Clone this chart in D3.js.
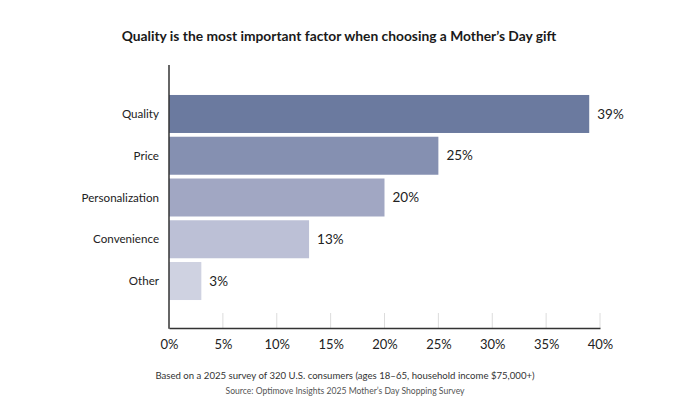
<!DOCTYPE html>
<html><head><meta charset="utf-8">
<script src="https://cdn.jsdelivr.net/npm/d3@7"></script>
<style>
html,body{margin:0;padding:0;background:#fff;}
svg{display:block;font-family:"Lato","Open Sans",sans-serif;}
</style></head>
<body>
<svg id="chart" width="691" height="397"></svg>
<script>
const categories = ["Quality","Price","Personalization","Convenience","Other"];
const values = [39,25,20,13,3];
const barColors = ["#6b7a9f","#8590b1","#a1a7c3","#bcc0d6","#cfd2e1"];
const tickValues = [0,5,10,15,20,25,30,35,40];
const titleText = "Quality is the most important factor when choosing a Mother\u2019s Day gift";
const note1 = "Based on a 2025 survey of 320 U.S. consumers (ages 18\u201365, household income $75,000+)";
const note2 = "Source: Optimove Insights 2025 Mother\u2019s Day Shopping Survey";

const svg = d3.select("#chart");
const x = d3.scaleLinear().domain([0,40]).range([169,600]);
const y = d3.scaleBand().domain(categories).range([93.1,301.9]).paddingInner(0.09).paddingOuter(0.045);
const axisY = 328;

svg.append("text").attr("x",339).attr("y",41).attr("text-anchor","middle")
  .attr("font-size",13.8).attr("font-weight",700).attr("fill","#1a1a1a").text(titleText);

// tick marks
svg.append("g").selectAll("line").data(tickValues.slice(1)).join("line")
  .attr("x1",d=>x(d)).attr("x2",d=>x(d)).attr("y1",axisY-15).attr("y2",axisY)
  .attr("stroke","#dcdcdc").attr("stroke-width",1);

svg.append("g").selectAll("rect").data(values).join("rect")
  .attr("x",x(0)).attr("y",(d,i)=>y(categories[i])).attr("height",y.bandwidth())
  .attr("width",d=>x(d)-x(0)).attr("fill",(d,i)=>barColors[i]);

svg.append("g").selectAll("text").data(values).join("text")
  .attr("x",d=>x(d)+8).attr("y",(d,i)=>y(categories[i])+y.bandwidth()/2)
  .attr("dy","0.35em").attr("font-size",13.5).attr("fill","#222")
  .text(d=>d+"%");

svg.append("g").selectAll("text").data(categories).join("text")
  .attr("x",159).attr("y",d=>y(d)+y.bandwidth()/2).attr("dy","0.35em")
  .attr("text-anchor","end").attr("font-size",11.6).attr("fill","#222").text(d=>d);

// x axis
const xAxis = d3.axisBottom(x).tickValues(tickValues).tickSize(0).tickPadding(12).tickFormat(d=>d+"%");
const gx = svg.append("g").attr("transform",`translate(0,${axisY})`).call(xAxis);
gx.select(".domain").attr("stroke","#333").attr("stroke-width",1.5);
gx.selectAll("text").attr("font-size",13).attr("fill","#222").attr("font-family","Lato, sans-serif");

// y axis line
svg.append("line").attr("x1",x(0)).attr("x2",x(0)).attr("y1",65).attr("y2",axisY+0.75)
  .attr("stroke","#333").attr("stroke-width",1.5);

svg.append("text").attr("x",345).attr("y",379).attr("text-anchor","middle")
  .attr("font-size",9.6).attr("fill","#333").text(note1);
svg.append("text").attr("x",345).attr("y",394).attr("text-anchor","middle")
  .attr("font-size",8.6).attr("fill","#555").text(note2);
</script>
</body></html>
